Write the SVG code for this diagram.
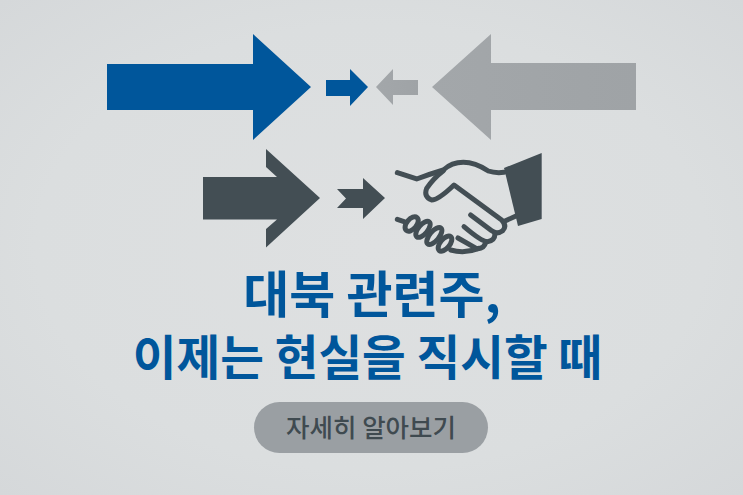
<svg xmlns="http://www.w3.org/2000/svg" width="743" height="495" viewBox="0 0 743 495">
<defs>
<radialGradient id="bg" cx="50%" cy="50%" r="75%"><stop offset="0" stop-color="#dee0e1"/><stop offset="0.6" stop-color="#dbdedf"/><stop offset="1" stop-color="#d4d7d9"/></radialGradient>
<linearGradient id="gr" x1="0" x2="1" y1="0" y2="0"><stop offset="0" stop-color="#a3a7aa"/><stop offset="1" stop-color="#9fa3a6"/></linearGradient>
</defs>
<style>
.blue{fill:#00569b}.dark{fill:#434e54}.gray{fill:url(#gr)}
.t{font-family:"Noto Sans CJK KR","Noto Sans",sans-serif;text-anchor:middle}
.title{font-weight:700;fill:#00569b}
.btn{font-size:25.500px;font-weight:500;fill:#3f4a50}
.h{fill:none;stroke:#434e54;stroke-width:15;stroke-linecap:round;stroke-linejoin:round}
</style>
<rect width="743" height="495" fill="url(#bg)"/>
<g id="arrow-blue-large"><polygon class="blue" points="107,64 253,64 253,34 311,87 253,140 253,110 107,110"/></g>
<g id="arrow-blue-small"><polygon class="blue" points="326,80 350,80 350,69 368,87 350,106 350,96 326,96"/></g>
<g id="arrow-gray-small"><polygon class="gray" points="418,80 393,80 393,69 376,87 393,105 393,95 418,95"/></g>
<g id="arrow-gray-large"><polygon class="gray" points="636,63 491,63 491,34 432,87 491,140 491,110 636,110"/></g>
<g id="arrow-dark-large"><polygon class="dark" points="203,177 277,177 266,167 266,149 320,198 266,247.500 266,229 277,219.500 203,219.500"/></g>
<g id="arrow-dark-small"><polygon class="dark" points="337,189 363,189 363,178 385,198 363,219 363,208 337,208 346,198.500"/></g>
<g id="handshake">
<polygon class="dark" points="504,168 541.700,153 541.700,219 518,226"/>
<g transform="translate(380 140) scale(0.3333)">
<path class="h" d="M52 98L110 117Q150 102 190 90Q215 67 250 67Q285 67 325 93Q345 100 372 97"/>
<path class="h" d="M190 92Q160 115 140 145Q130 170 155 180Q175 180 222 135L365 240Q382 258 368 272Q350 285 335 272L272 225"/>
<path class="h" d="M345 280Q345 303 322 305Q305 305 252 260"/>
<path class="h" d="M318 305Q312 328 290 326L234 294"/>
<path class="h" d="M296 325Q255 342 212 330"/>
<path class="h" d="M375 243L408 228"/>
<path class="h" d="M52 238L72 245"/>
<ellipse class="h" cx="95" cy="252" rx="15" ry="25" transform="rotate(40 95 252)"/>
<ellipse class="h" cx="129" cy="268" rx="14" ry="29" transform="rotate(40 129 268)"/>
<ellipse class="h" cx="163" cy="288" rx="14" ry="31" transform="rotate(40 163 288)"/>
<ellipse class="h" cx="195" cy="311" rx="14" ry="27" transform="rotate(40 195 311)"/>
</g>
</g>
<text class="t title" x="372" y="313" font-size="50">대북 관련주,</text>
<text class="t title" x="367.500" y="375" font-size="47.500">이제는 현실을 직시할 때</text>
<g id="button"><rect x="254" y="402" width="234" height="51" rx="25.500" fill="#9a9fa3"/>
<text class="t btn" x="371" y="437">자세히 알아보기</text></g>
</svg>
